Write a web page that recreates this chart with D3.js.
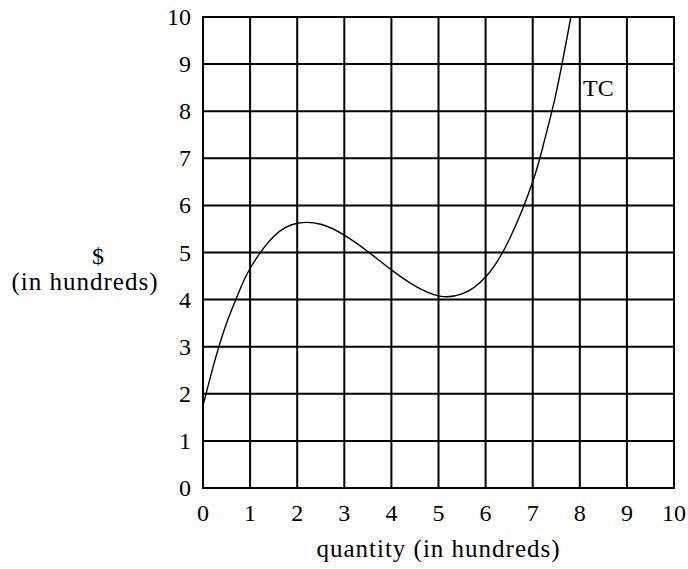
<!DOCTYPE html>
<html>
<head>
    <meta charset="utf-8">
    <title>total cost</title>
    <style>
    body { margin: 0; background: #fff; }
    text { font-family: 'Liberation Serif', serif; font-size: 24px; fill: #000; }
    </style>
</head>
<body>
    <script src="https://cdn.jsdelivr.net/npm/d3@7"></script>
    <script>

    // values
    var xTicks = [0, 1, 2, 3, 4, 5, 6, 7, 8, 9, 10],
        yTicks = [0, 1, 2, 3, 4, 5, 6, 7, 8, 9, 10]

    var quantity = [0, 0.25, 0.5, 0.75, 1, 1.5, 2, 2.5, 3, 3.5, 4, 4.5, 5, 5.5, 6, 6.5, 7, 7.25, 7.5, 7.81],
        cost     = [1.75, 2.7, 3.5, 4.13, 4.66, 5.34, 5.62, 5.6, 5.37, 5.02, 4.63, 4.29, 4.08, 4.12, 4.48, 5.27, 6.5, 7.38, 8.4, 10]

    var width = 688,
        height = 569,
        plotLeft = 203, plotRight = 674, plotTop = 17, plotBottom = 488

    var svg = d3.select('body').append('svg')
        .attr('width', width)
        .attr('height', height)

    var x = d3.scaleLinear().domain([0, 10]).range([plotLeft, plotRight])
    var y = d3.scaleLinear().domain([0, 10]).range([plotBottom, plotTop])

    // grid
    svg.append('g').selectAll('line').data(xTicks).enter().append('line')
        .attr('x1', function(d){ return x(d) })
        .attr('x2', function(d){ return x(d) })
        .attr('y1', y(0) + 1)
        .attr('y2', y(10) - 1)
        .attr('stroke', '#000')
        .attr('stroke-width', 2)

    svg.append('g').selectAll('line').data(yTicks).enter().append('line')
        .attr('y1', function(d){ return y(d) })
        .attr('y2', function(d){ return y(d) })
        .attr('x1', x(0) - 1)
        .attr('x2', x(10) + 1)
        .attr('stroke', '#000')
        .attr('stroke-width', 2)

    // tick labels
    svg.append('g').selectAll('text').data(xTicks).enter().append('text')
        .attr('x', function(d){ return x(d) })
        .attr('y', 521)
        .attr('text-anchor', 'middle')
        .text(function(d){ return d })

    svg.append('g').selectAll('text').data(yTicks).enter().append('text')
        .attr('x', 191)
        .attr('y', function(d){ return y(d) + 8 })
        .attr('text-anchor', 'end')
        .text(function(d){ return d })

    // axis titles
    svg.append('text')
        .attr('x', x(5))
        .attr('y', 557)
        .attr('text-anchor', 'middle')
        .attr('letter-spacing', 1)
        .style('font-size', '25px')
        .text('quantity (in hundreds)')

    svg.append('text')
        .attr('x', 98)
        .attr('y', 264)
        .attr('text-anchor', 'middle')
        .text('$')

    svg.append('text')
        .attr('x', 85)
        .attr('y', 290)
        .attr('text-anchor', 'middle')
        .attr('letter-spacing', 1)
        .style('font-size', '25px')
        .text('(in hundreds)')

    // TC curve
    svg.append('clipPath').attr('id', 'plot')
        .append('rect')
        .attr('x', plotLeft).attr('y', plotTop)
        .attr('width', plotRight - plotLeft).attr('height', plotBottom - plotTop)

    var line = d3.line()
        .x(function(d, i){ return x(quantity[i]) })
        .y(function(d, i){ return y(cost[i]) })
        .curve(d3.curveNatural)

    svg.append('path')
        .datum(cost)
        .attr('clip-path', 'url(#plot)')
        .attr('d', line)
        .attr('fill', 'none')
        .attr('stroke', '#000')
        .attr('stroke-width', 1.4)

    svg.append('text')
        .attr('x', 583)
        .attr('y', 96)
        .text('TC')

    </script>
</body>
</html>
